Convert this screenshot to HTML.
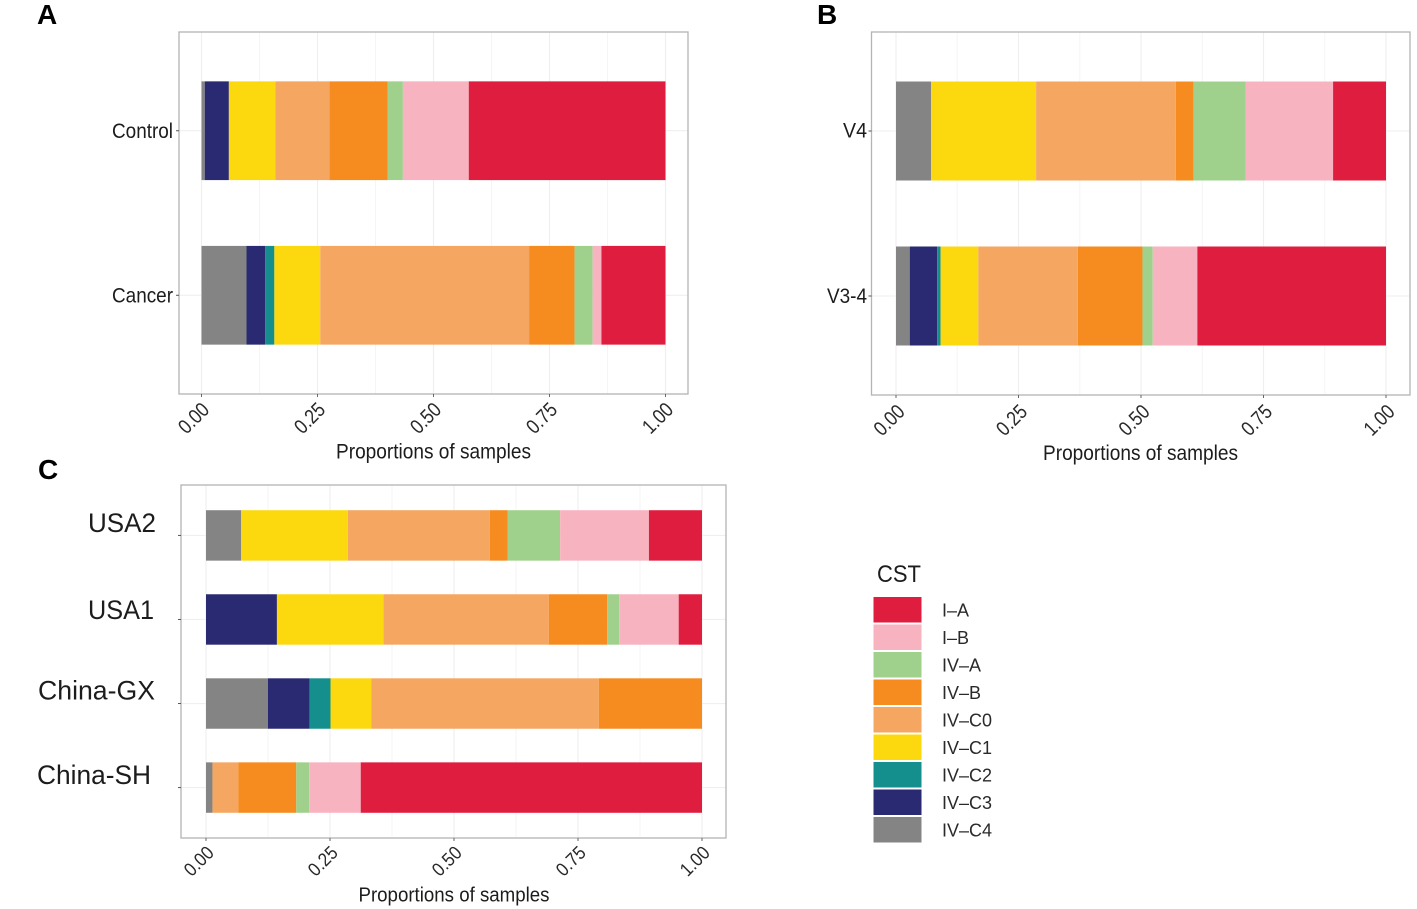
<!DOCTYPE html>
<html lang="en">
<head>
<meta charset="utf-8">
<title>CST proportions of samples</title>
<style>
html,body{margin:0;padding:0;background:#fff;}
svg{display:block;}
text{font-family:"Liberation Sans",Arial,sans-serif;fill:#1c1c1c;}
</style>
</head>
<body>
<svg id="figure" width="1417" height="909" viewBox="0 0 1417 909" xmlns="http://www.w3.org/2000/svg"></svg>
<script>
// Community state types, in stacking order from x = 0
const cstNames = ['IV–C4','IV–C3','IV–C2','IV–C1','IV–C0','IV–B','IV–A','I–B','I–A'];
const xTickValues = [0, 0.25, 0.5, 0.75, 1];
const xTickLabels = ['0.00','0.25','0.50','0.75','1.00'];

// Panel A
const panelACategories = ['Control','Cancer'];
const controlValues = [0.007,0.052,0,0.100,0.117,0.125,0.033,0.142,0.424];
const cancerValues  = [0.097,0.040,0.020,0.099,0.450,0.098,0.039,0.019,0.138];

// Panel B
const panelBCategories = ['V4','V3-4'];
const v4Values  = [0.0715,0,0,0.2145,0.285,0.036,0.107,0.178,0.108];
const v34Values = [0.028,0.056,0.007,0.077,0.203,0.132,0.021,0.091,0.385];

// Panel C
const panelCCategories = ['USA2','USA1','China-GX','China-SH'];
const usa2Values    = [0.071,0,0,0.215,0.286,0.036,0.106,0.179,0.107];
const usa1Values    = [0,0.143,0,0.215,0.333,0.118,0.024,0.120,0.047];
const chinaGxValues = [0.125,0.084,0.042,0.082,0.459,0.208,0,0,0];
const chinaShValues = [0.013,0,0,0,0.052,0.117,0.026,0.104,0.688];

// Styling, keyed by CST name
const cstColor = {
  'I–A':'#DF1E3F','I–B':'#F8B3C0','IV–A':'#9FD18C','IV–B':'#F68B1F','IV–C0':'#F5A661',
  'IV–C1':'#FCD90F','IV–C2':'#148F8D','IV–C3':'#2A2A72','IV–C4':'#838483'
};

const svg = document.getElementById('figure');
const NS = 'http://www.w3.org/2000/svg';

function make(tag, attrs, parent, content) {
  const node = document.createElementNS(NS, tag);
  for (const key in attrs) node.setAttribute(key, attrs[key]);
  if (content !== undefined) node.textContent = content;
  parent.appendChild(node);
  return node;
}

function drawPanel(p) {
  const group = make('g', {}, svg);
  
  

  const xScale = v => p.x0 + v * (p.x1 - p.x0);
  const step = (p.bottom - p.top) / (p.categories.length - 1 + 1.2);
  const yScale = i => p.top + step * (0.6 + i);
  const barH = step * 0.6;

  const bg = make('rect', {x:p.left, y:p.top, width:p.right-p.left, height:p.bottom-p.top, fill:'#fff'}, group);
  
  

  // minor vertical grid
  xTickValues.slice(0, -1).forEach((v, i) => {
    const mid = (v + xTickValues[i + 1]) / 2;
    const minor = make('line', {x1:xScale(mid), x2:xScale(mid), y1:p.top, y2:p.bottom, stroke:'#f5f5f5', 'stroke-width':1}, group);
    
    
  });
  // major vertical grid
  xTickValues.forEach(v => {
    const major = make('line', {x1:xScale(v), x2:xScale(v), y1:p.top, y2:p.bottom, stroke:'#efefef', 'stroke-width':1.1}, group);
    
    
  });
  // horizontal grid
  p.categories.forEach((c, i) => {
    const hline = make('line', {x1:p.left, x2:p.right, y1:yScale(i), y2:yScale(i), stroke:'#efefef', 'stroke-width':1.1}, group);
    
    
  });

  // stacked bars
  p.categories.forEach((c, i) => {
    let cum = 0;
    p.values[i].forEach((val, s) => {
      if (val > 0) {
        const seg = make('rect', {x:xScale(cum), y:yScale(i)-barH/2, width:xScale(cum+val)-xScale(cum), height:barH, fill:cstColor[cstNames[s]]}, group);
        
        
      }
      cum += val;
    });
  });

  // frame
  const frame = make('rect', {x:p.left, y:p.top, width:p.right-p.left, height:p.bottom-p.top, fill:'none', stroke:'#b4b4b4', 'stroke-width':1.3}, group);
  
  

  // x ticks and labels
  xTickValues.forEach((v, i) => {
    const tick = make('line', {x1:xScale(v), x2:xScale(v), y1:p.bottom, y2:p.bottom+3, stroke:'#666', 'stroke-width':1}, group);
    
    
    const ax = xScale(v) + p.tickDx, ay = p.bottom + p.tickDy;
    const label = make('text', {x:ax, y:ay, 'text-anchor':'end', 'font-size':p.tickFont, textLength:p.tickWidth, lengthAdjust:'spacingAndGlyphs', transform:'rotate(-45 '+ax+' '+ay+')', style:'fill:#2a2a2a'}, group, xTickLabels[i]);
    
    
  });

  // y ticks and labels
  p.categories.forEach((c, i) => {
    const tick = make('line', {x1:p.left-3, x2:p.left, y1:yScale(i), y2:yScale(i), stroke:'#555', 'stroke-width':1}, group);
    
    
    const l = p.yLabelLayout[i];
    const label = make('text', {x:l.left, y:l.base, 'font-size':p.yFont, textLength:l.width, lengthAdjust:'spacingAndGlyphs'}, group, c);
    
    
  });

  // axis title
  const title = make('text', {x:p.titleLeft, y:p.titleBase, 'font-size':p.titleFont, textLength:p.titleWidth, lengthAdjust:'spacingAndGlyphs'}, group, 'Proportions of samples');
  
  

  // panel letter
  const letter = make('text', {x:p.letterX, y:p.letterY, 'font-size':28, 'font-weight':'bold', style:'fill:#000'}, group, p.id);
  
  
}

drawPanel({
  id:'A', categories:panelACategories, values:[controlValues, cancerValues],
  left:179, right:688, top:32, bottom:394, x0:201.5, x1:665.5,
  tickDx:9, tickDy:17, tickFont:20.5, tickWidth:34, yFont:21.5,
  yLabelLayout:[{left:112, base:138, width:61},{left:112, base:302.5, width:61}],
  titleLeft:336, titleBase:458.5, titleWidth:195, titleFont:21.5, letterX:37, letterY:24
});
drawPanel({
  id:'B', categories:panelBCategories, values:[v4Values, v34Values],
  left:871.5, right:1410, top:32, bottom:395, x0:896, x1:1386,
  tickDx:10, tickDy:18, tickFont:20.5, tickWidth:34, yFont:21.5,
  yLabelLayout:[{left:843, base:137.5, width:24},{left:827, base:303, width:40}],
  titleLeft:1043, titleBase:460, titleWidth:195, titleFont:21.5, letterX:817, letterY:24
});
drawPanel({
  id:'C', categories:panelCCategories, values:[usa2Values, usa1Values, chinaGxValues, chinaShValues],
  left:181, right:726, top:485, bottom:838, x0:206, x1:702,
  tickDx:9, tickDy:16, tickFont:19, tickWidth:33, yFont:27,
  yLabelLayout:[{left:88, base:532, width:68},{left:88, base:619, width:66},{left:38, base:699.5, width:117},{left:37, base:784, width:114}],
  titleLeft:358.5, titleBase:901.5, titleWidth:191, titleFont:20.5, letterX:38, letterY:479
});

// Legend
const legend = make('g', {}, svg);


const legendTitle = make('text', {x:877, y:582, 'font-size':24, textLength:44, lengthAdjust:'spacingAndGlyphs'}, legend, 'CST');


cstNames.slice().reverse().forEach((name, i) => {
  const top = 597 + i * 27.5;
  const key = make('rect', {x:873.5, y:top, width:48, height:25.5, fill:cstColor[name]}, legend);
  
  
  const label = make('text', {x:942, y:top + 19.5, 'font-size':18, style:'fill:#2a2a2a'}, legend, name);
  
  
});
</script>
</body>
</html>
